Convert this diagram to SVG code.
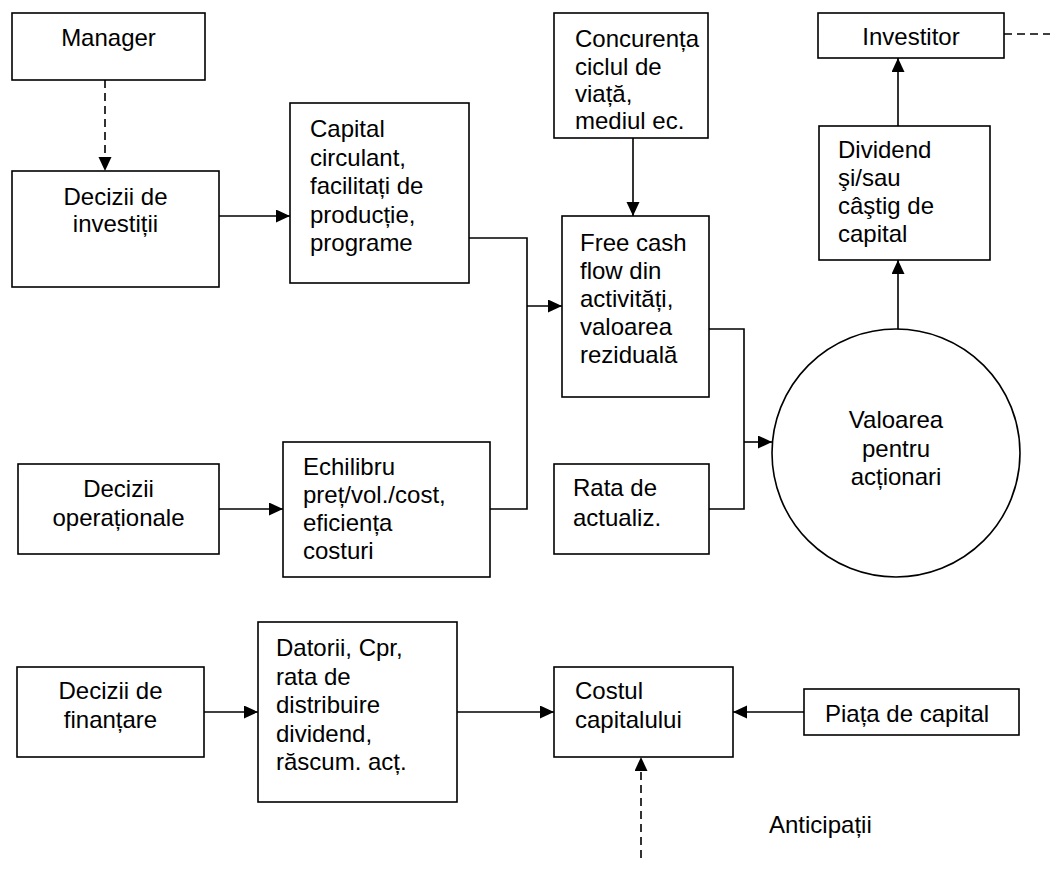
<svg xmlns="http://www.w3.org/2000/svg" width="1050" height="869" viewBox="0 0 1050 869">
<style>
.box{fill:#fff;stroke:#000;stroke-width:1.6}
.t{font-family:"Liberation Sans",Arial,sans-serif;font-size:24px;fill:#000}
.c{text-anchor:middle}
.ln{fill:none;stroke:#000;stroke-width:1.6}
.arr{marker-end:url(#ah)}
.dash{stroke-dasharray:8 5}
</style>
<defs>
<marker id="ah" markerUnits="userSpaceOnUse" markerWidth="15" markerHeight="14" refX="14" refY="6.5" orient="auto">
<path d="M0,0 L14,6.5 L0,13 z" fill="#000"/>
</marker>
</defs>
<rect width="1050" height="869" fill="#fff"/>
<g id="connectors">
<path class="ln dash arr" d="M105,80 V171"/>
<path class="ln arr" d="M219,216 H290"/>
<path class="ln" d="M469,238 H527 V509 H490"/>
<path class="ln arr" d="M527,306 H562"/>
<path class="ln arr" d="M633,138 V216"/>
<path class="ln" d="M709,329 H744 V509 H709"/>
<path class="ln arr" d="M744,442 H772"/>
<path class="ln arr" d="M898,330 V260"/>
<path class="ln arr" d="M898,126 V58"/>
<path class="ln dash" d="M1004,34 H1050"/>
<path class="ln arr" d="M219,509 H283"/>
<path class="ln arr" d="M204,712 H258"/>
<path class="ln arr" d="M457,712 H554"/>
<path class="ln arr" d="M804,712 H733"/>
<path class="ln dash arr" d="M641,858 V757"/>
</g>
<g id="manager">
<rect class="box" x="12" y="13" width="193" height="67"/>
<text class="t c" x="108.5" y="46">Manager</text>
</g>
<g id="decizii-investitii">
<rect class="box" x="12" y="171" width="207" height="116"/>
<text class="t c" x="115.5" y="205">Decizii de</text>
<text class="t c" x="115.5" y="232">investiții</text>
</g>
<g id="capital">
<rect class="box" x="290" y="103" width="179" height="180"/>
<text class="t" x="310" y="137">Capital</text>
<text class="t" x="310" y="165.5">circulant,</text>
<text class="t" x="310" y="194">facilitați de</text>
<text class="t" x="310" y="222.5">producție,</text>
<text class="t" x="310" y="251">programe</text>
</g>
<g id="concurenta">
<rect class="box" x="554" y="13" width="154" height="125"/>
<text class="t" x="575" y="47">Concurența</text>
<text class="t" x="575" y="74.5">ciclul de</text>
<text class="t" x="575" y="102">viață,</text>
<text class="t" x="575" y="129">mediul ec.</text>
</g>
<g id="free-cash">
<rect class="box" x="562" y="216" width="147" height="181"/>
<text class="t" x="580" y="251">Free cash</text>
<text class="t" x="580" y="279">flow din</text>
<text class="t" x="580" y="307">activități,</text>
<text class="t" x="580" y="335">valoarea</text>
<text class="t" x="580" y="363">reziduală</text>
</g>
<g id="investitor">
<rect class="box" x="818" y="13" width="186" height="45"/>
<text class="t c" x="911" y="45">Investitor</text>
</g>
<g id="dividend">
<rect class="box" x="819" y="126" width="171" height="134"/>
<text class="t" x="838" y="158">Dividend</text>
<text class="t" x="838" y="186">şi/sau</text>
<text class="t" x="838" y="214">câştig de</text>
<text class="t" x="838" y="242">capital</text>
</g>
<g id="valoarea">
<circle class="box" cx="896" cy="453" r="124"/>
<text class="t c" x="896" y="428">Valoarea</text>
<text class="t c" x="896" y="457">pentru</text>
<text class="t c" x="896" y="485">acționari</text>
</g>
<g id="decizii-operationale">
<rect class="box" x="18" y="464" width="201" height="90"/>
<text class="t c" x="118.5" y="497">Decizii</text>
<text class="t c" x="118.5" y="526">operaționale</text>
</g>
<g id="echilibru">
<rect class="box" x="283" y="442" width="207" height="135"/>
<text class="t" x="303" y="475">Echilibru</text>
<text class="t" x="303" y="503">preț/vol./cost,</text>
<text class="t" x="303" y="531">eficiența</text>
<text class="t" x="303" y="559">costuri</text>
</g>
<g id="rata">
<rect class="box" x="554" y="464" width="155" height="90"/>
<text class="t" x="573" y="496">Rata de</text>
<text class="t" x="573" y="526">actualiz.</text>
</g>
<g id="decizii-finantare">
<rect class="box" x="17" y="667" width="187" height="90"/>
<text class="t c" x="110.5" y="699">Decizii de</text>
<text class="t c" x="110.5" y="728">finanțare</text>
</g>
<g id="datorii">
<rect class="box" x="258" y="622" width="199" height="180"/>
<text class="t" x="276" y="656">Datorii, Cpr,</text>
<text class="t" x="276" y="684.5">rata de</text>
<text class="t" x="276" y="713">distribuire</text>
<text class="t" x="276" y="741.5">dividend,</text>
<text class="t" x="276" y="770">răscum. acț.</text>
</g>
<g id="costul">
<rect class="box" x="554" y="667" width="179" height="90"/>
<text class="t" x="575" y="699">Costul</text>
<text class="t" x="575" y="728">capitalului</text>
</g>
<g id="piata">
<rect class="box" x="804" y="689" width="215" height="46"/>
<text class="t" x="825" y="722">Piața de capital</text>
</g>
<g id="anticipatii">
<text class="t" x="769" y="833">Anticipații</text>
</g>
</svg>
